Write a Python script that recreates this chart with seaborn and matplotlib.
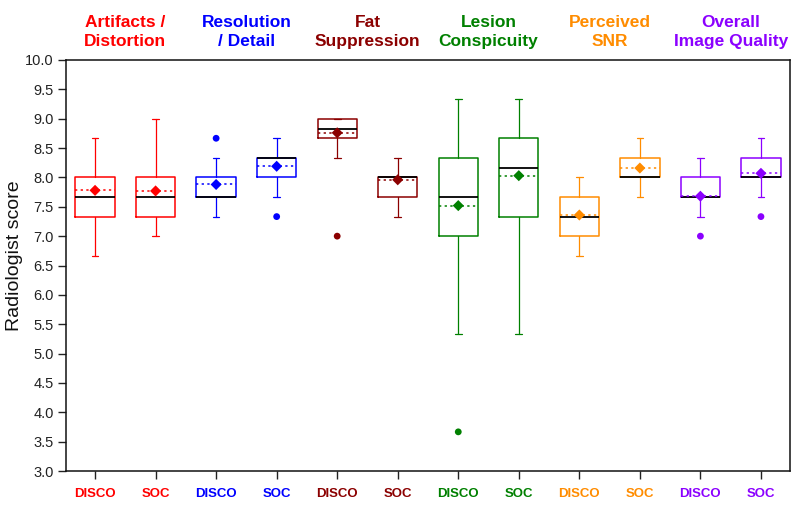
import matplotlib
matplotlib.use("Agg")
import matplotlib.pyplot as plt
import matplotlib.transforms as mtransforms
import numpy as np
import pandas as pd
import seaborn as sns

# ---------------- data ----------------
categories = ["Artifacts /\nDistortion", "Resolution\n/ Detail", "Fat\nSuppression",
              "Lesion\nConspicuity", "Perceived\nSNR", "Overall\nImage Quality"]
methods = ["DISCO", "SOC"]
cat_colors = ["#FF0000", "#0000FF", "#8B0000", "#008000", "#FF8C00", "#8B00FF"]

# one entry per box: DISCO, SOC for each category in order
whislo = [6.667, 7.000, 7.333, 7.667, 8.333, 7.333, 5.333, 5.333, 6.667, 7.667, 7.333, 7.667]
q1     = [7.333, 7.333, 7.667, 8.000, 8.667, 7.667, 7.000, 7.333, 7.000, 8.000, 7.667, 8.000]
med    = [7.667, 7.667, 7.667, 8.333, 8.833, 8.000, 7.667, 8.167, 7.333, 8.000, 7.667, 8.000]
q3     = [8.000, 8.000, 8.000, 8.333, 9.000, 8.000, 8.333, 8.667, 7.667, 8.333, 8.000, 8.333]
whishi = [8.667, 9.000, 8.333, 8.667, 9.000, 8.333, 9.333, 9.333, 8.000, 8.667, 8.333, 8.667]
means  = [7.78, 7.77, 7.88, 8.19, 8.76, 7.96, 7.52, 8.03, 7.36, 8.16, 7.68, 8.07]
outliers = [[], [], [8.667], [7.333], [7.0], [], [3.667], [], [], [], [7.0], [7.333]]

yticks = [3.0, 3.5, 4.0, 4.5, 5.0, 5.5, 6.0, 6.5, 7.0, 7.5, 8.0, 8.5, 9.0, 9.5, 10.0]

# ---------------- style ----------------
sns.set_theme(style="ticks")
plt.rcParams["font.family"] = ["Liberation Sans", "DejaVu Sans"]

fig = plt.figure(figsize=(8.0, 5.08), dpi=100)
ax = fig.add_axes([0.0825, 0.0728, 0.9050, 0.8091])

n = len(categories) * len(methods)
positions = np.arange(n)
box_colors = [c for c in cat_colors for _ in methods]
box_labels = [m for _ in categories for m in methods]

stats = []
for i in range(n):
    stats.append(dict(whislo=whislo[i], q1=q1[i], med=med[i], q3=q3[i],
                      whishi=whishi[i], mean=means[i], fliers=[]))

for i in range(n):
    col = box_colors[i]
    ax.bxp([stats[i]], positions=[positions[i]], widths=0.65, capwidths=0.11,
           showmeans=True, meanline=True, showfliers=False, patch_artist=False,
           boxprops=dict(color=col, linewidth=1.1),
           whiskerprops=dict(color=col, linewidth=0.9),
           capprops=dict(color=col, linewidth=0.9),
           medianprops=dict(color="black", linewidth=1.3),
           meanprops=dict(color=col, linestyle=(0, (1.5, 2.2)), linewidth=1.1),
           manage_ticks=False)

palette = {m + str(i): box_colors[i] for i, m in enumerate(box_labels)}
mean_df = pd.DataFrame({"pos": positions, "mean": means,
                        "box": [m + str(i) for i, m in enumerate(box_labels)]})
sns.scatterplot(data=mean_df, x="pos", y="mean", hue="box", palette=palette,
                marker="D", s=32, linewidth=0, legend=False, ax=ax, zorder=5)

out_rows = [(positions[i], v, box_labels[i] + str(i)) for i in range(n) for v in outliers[i]]
out_df = pd.DataFrame(out_rows, columns=["pos", "value", "box"])
sns.scatterplot(data=out_df, x="pos", y="value", hue="box", palette=palette,
                marker="o", s=24, linewidth=0, legend=False, ax=ax, zorder=5)

# ---------------- axes ----------------
ax.set_xlim(-0.48, n - 0.52)
ax.set_ylim(3.0, 10.0)
ax.set_yticks(yticks)
ax.set_yticklabels([f"{v:.1f}" for v in yticks], fontsize=10.5, color="#222222")
ax.set_xticks(positions)
ax.set_xticklabels(box_labels, fontsize=9.5, fontweight="bold")
for lbl, col in zip(ax.get_xticklabels(), box_colors):
    lbl.set_color(col)
ax.set_xlabel("")
ax.set_ylabel("Radiologist score", fontsize=14, color="#111111")
ax.yaxis.set_label_coords(-0.060, 0.525)
ax.tick_params(axis="both", direction="out", length=6, width=1.0, color="#222222")
ax.tick_params(axis="x", pad=6)
ax.tick_params(axis="y", pad=3)
for sp in ax.spines.values():
    sp.set_visible(True)
    sp.set_color("#111111")
    sp.set_linewidth(1.1)
ax.grid(False)

trans = mtransforms.blended_transform_factory(ax.transData, fig.transFigure)
for j, (cat, col) in enumerate(zip(categories, cat_colors)):
    ax.text(2 * j + 0.5, 0.937, cat, transform=trans, ha="center", va="center",
            fontsize=12.5, fontweight="bold", color=col, linespacing=1.35)

fig.savefig("out.png", dpi=100)
